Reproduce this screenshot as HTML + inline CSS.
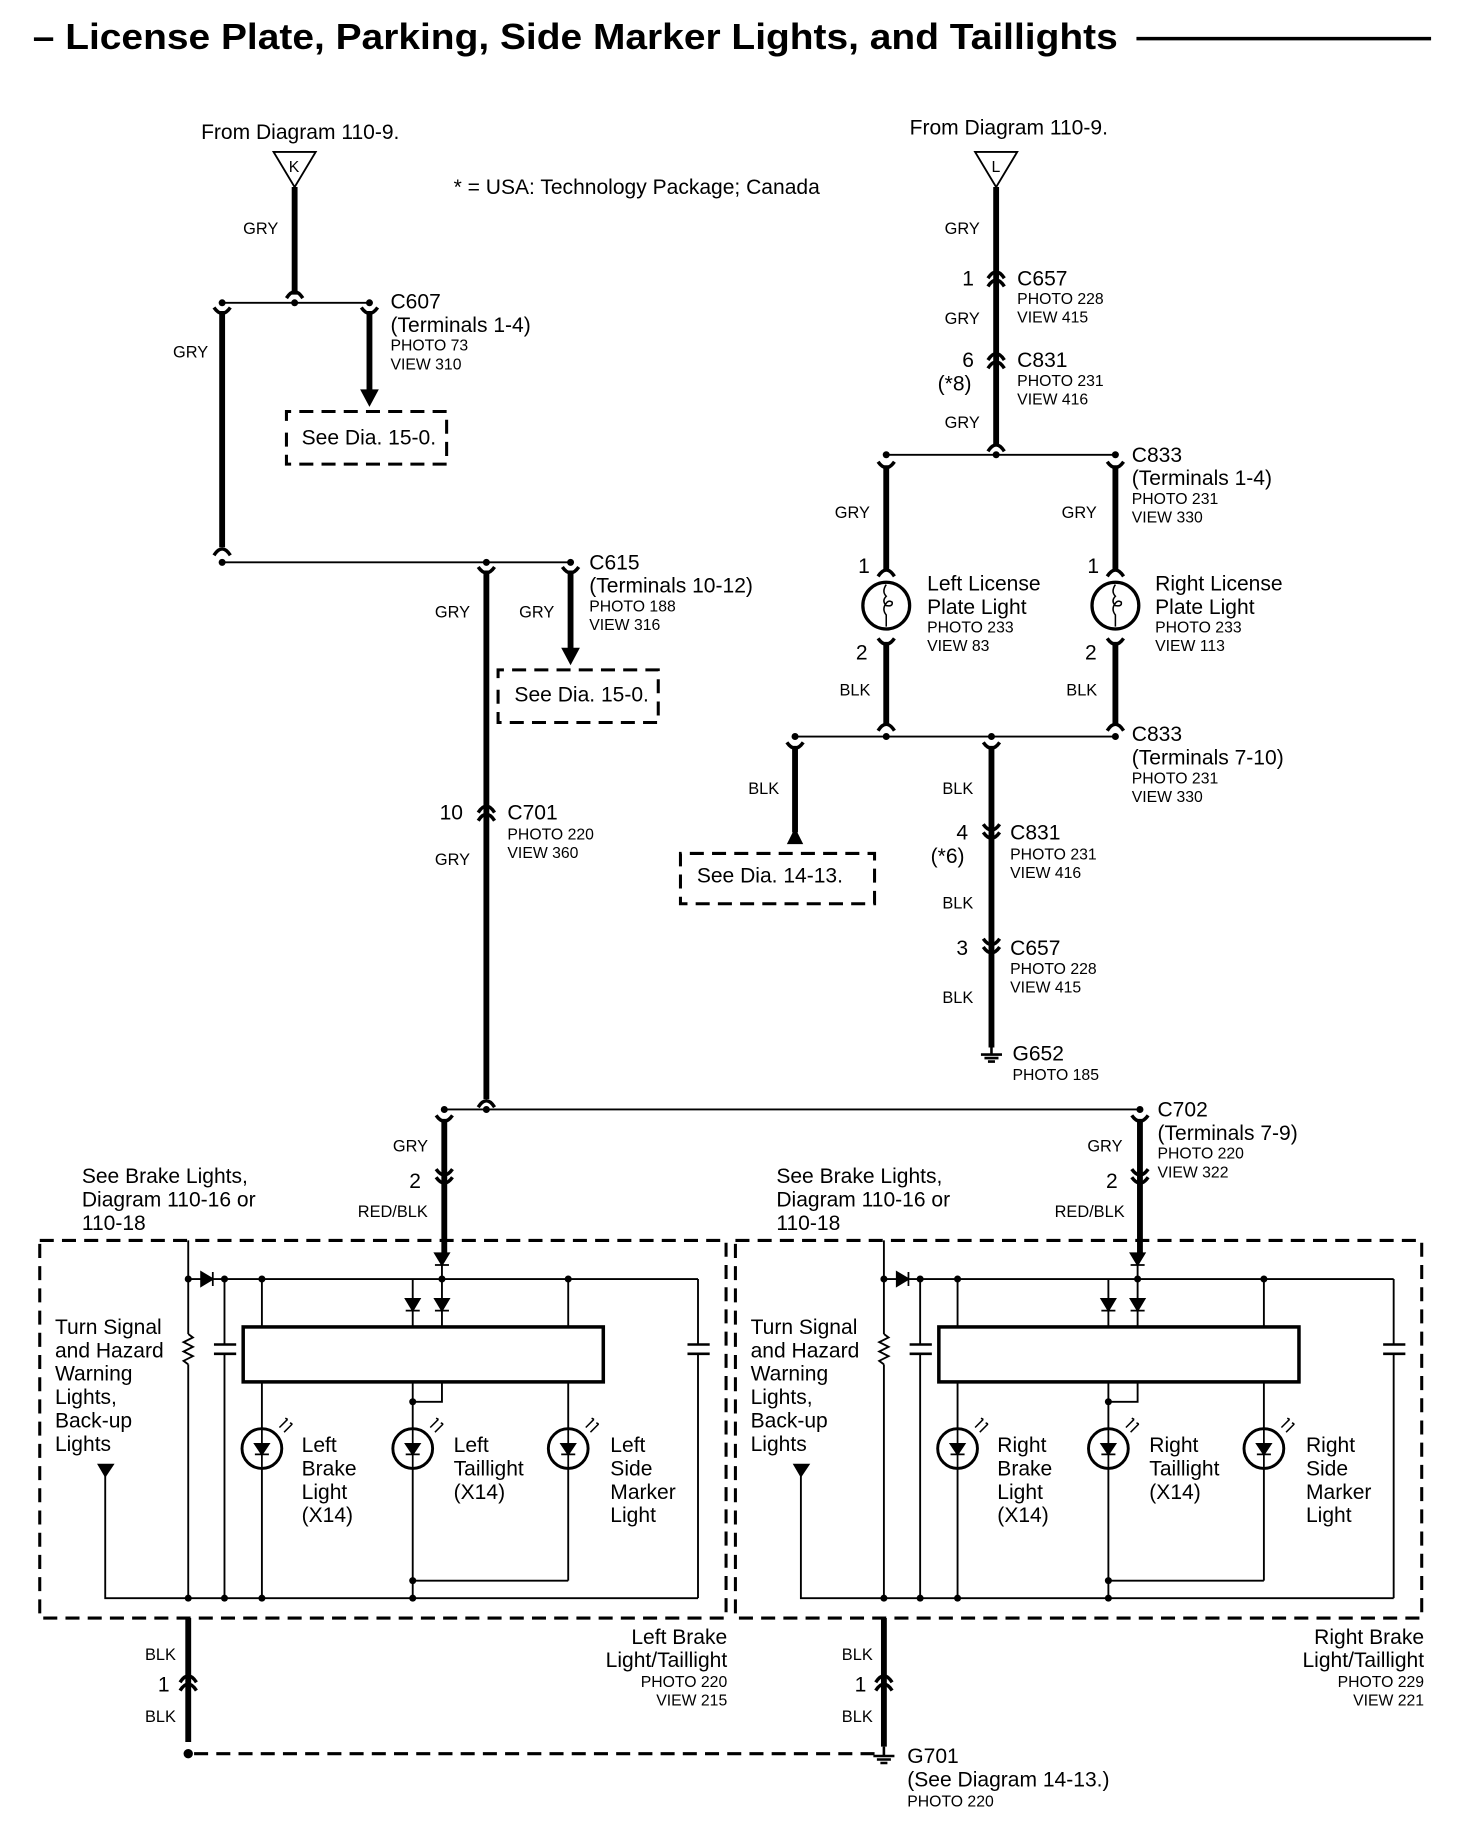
<!DOCTYPE html>
<html><head><meta charset="utf-8"><style>
html,body{margin:0;padding:0;background:#fff}
svg{display:block}
text{font-family:"Liberation Sans",sans-serif;fill:#000}
.m{font-size:18px}
.s{font-size:13.5px}
.w{font-size:14px}
.t{stroke:#000;stroke-width:5;fill:none}
.n{stroke:#000;stroke-width:1.6;fill:none}
.d{stroke:#000;stroke-width:2.6;fill:none;stroke-dasharray:12 7}
</style></head><body>
<svg width="1472" height="1832" viewBox="0 0 1259 1567" preserveAspectRatio="none" xmlns="http://www.w3.org/2000/svg">
<defs>
<path id="cu" d="M-7,5 Q0,-6 7,5" stroke="#000" stroke-width="3" fill="none"/>
<path id="fy" d="M-7,-5 Q0,5 7,-5" stroke="#000" stroke-width="3" fill="none"/>
<g id="led">
<circle r="17" stroke="#000" stroke-width="2.5" fill="#fff"/>
<path d="M0,-17 V17 M-6,-4 H6 L0,5 Z M-6,5 H6" stroke="#000" stroke-width="1.5" fill="#000"/>
<path d="M15,-18 l7,-7 M19,-14 l7,-7 M20,-26 l2,1 M24,-22 l2,1" stroke="#000" stroke-width="1.3" fill="none"/>
</g>
<g id="bulb">
<circle r="20" stroke="#000" stroke-width="2.8" fill="#fff"/>
<path d="M0,-18 q-4,6 0,10 q-4,4 0,8 q6,1 5,-3 q-3,-2 -5,1 q-4,5 0,10 v10" stroke="#000" stroke-width="1.3" fill="none"/>
</g>
<g id="ground"><path d="M0,-8 V0 M-9,0 H9 M-6,3 H6 M-3,6 H3" stroke="#000" stroke-width="2.2"/></g>
</defs>

<!-- title -->
<text x="28" y="42" textLength="928" lengthAdjust="spacingAndGlyphs" style="font-size:31px;font-weight:bold">– License Plate, Parking, Side Marker Lights, and Taillights</text>
<line x1="972" y1="33" x2="1224" y2="33" stroke="#000" stroke-width="3"/>

<text class="m" x="388" y="166">* = USA: Technology Package; Canada</text>

<!-- LEFT top -->
<text class="m" x="172" y="119">From Diagram 110-9.</text>
<path d="M234,130 H270 L252,160 Z" stroke="#000" stroke-width="1.6" fill="#fff"/>
<text class="s" x="247" y="147">K</text>
<line class="t" x1="252" y1="160" x2="252" y2="252"/>
<use href="#cu" x="252" y="250"/>
<text class="w" x="208" y="200">GRY</text>
<line class="n" x1="190" y1="259" x2="316" y2="259"/>
<circle cx="252" cy="259" r="3"/>
<circle cx="190" cy="259" r="3"/><circle cx="316" cy="259" r="3"/>
<use href="#fy" x="190" y="268"/>
<line class="t" x1="190" y1="266" x2="190" y2="468"/>
<use href="#cu" x="190" y="470"/>
<use href="#fy" x="316" y="268"/>
<line class="t" x1="316" y1="266" x2="316" y2="335"/>
<path d="M308,333 H324 L316,348 Z"/>
<text class="w" x="148" y="306">GRY</text>
<text class="m" x="334" y="264">C607</text>
<text class="m" x="334" y="284">(Terminals 1-4)</text>
<text class="s" x="334" y="300">PHOTO 73</text>
<text class="s" x="334" y="316">VIEW 310</text>
<path class="d" d="M245,370 V397 H382 V352 H245 V365"/>
<text class="m" x="258" y="380">See Dia. 15-0.</text>

<line class="n" x1="190" y1="481" x2="488" y2="481"/>
<circle cx="190" cy="481" r="3"/><circle cx="416" cy="481" r="3"/><circle cx="488" cy="481" r="3"/>
<use href="#fy" x="416" y="490"/>
<line class="t" x1="416" y1="488" x2="416" y2="940"/>
<use href="#fy" x="488" y="490"/>
<line class="t" x1="488" y1="488" x2="488" y2="556"/>
<path d="M480,554 H496 L488,569 Z"/>
<text class="w" x="372" y="528">GRY</text>
<text class="w" x="444" y="528">GRY</text>
<text class="m" x="504" y="487">C615</text>
<text class="m" x="504" y="507">(Terminals 10-12)</text>
<text class="s" x="504" y="523">PHOTO 188</text>
<text class="s" x="504" y="539">VIEW 316</text>
<path class="d" d="M426,590 V618 H563 V573 H426 V585"/>
<text class="m" x="440" y="600">See Dia. 15-0.</text>

<use href="#cu" x="416" y="690"/><use href="#cu" x="416" y="697"/>
<text class="m" x="376" y="701">10</text>
<text class="m" x="434" y="701">C701</text>
<text class="s" x="434" y="718">PHOTO 220</text>
<text class="s" x="434" y="734">VIEW 360</text>
<text class="w" x="372" y="740">GRY</text>
<use href="#cu" x="416" y="942"/>

<!-- RIGHT top -->
<text class="m" x="778" y="115">From Diagram 110-9.</text>
<path d="M834,130 H870 L852,160 Z" stroke="#000" stroke-width="1.6" fill="#fff"/>
<text class="s" x="848" y="147">L</text>
<line class="t" x1="852" y1="160" x2="852" y2="381"/>
<text class="w" x="808" y="200">GRY</text>
<use href="#cu" x="852" y="233"/><use href="#cu" x="852" y="240"/>
<text class="m" x="823" y="244">1</text>
<text class="m" x="870" y="244">C657</text>
<text class="s" x="870" y="260">PHOTO 228</text>
<text class="s" x="870" y="276">VIEW 415</text>
<text class="w" x="808" y="277">GRY</text>
<use href="#cu" x="852" y="303"/><use href="#cu" x="852" y="310"/>
<text class="m" x="823" y="314">6</text>
<text class="m" x="802" y="334">(*8)</text>
<text class="m" x="870" y="314">C831</text>
<text class="s" x="870" y="330">PHOTO 231</text>
<text class="s" x="870" y="346">VIEW 416</text>
<text class="w" x="808" y="366">GRY</text>
<use href="#cu" x="852" y="381"/>
<line class="n" x1="758" y1="389" x2="954" y2="389"/>
<circle cx="758" cy="389" r="3"/><circle cx="852" cy="389" r="3"/><circle cx="954" cy="389" r="3"/>
<text class="m" x="968" y="395">C833</text>
<text class="m" x="968" y="415">(Terminals 1-4)</text>
<text class="s" x="968" y="431">PHOTO 231</text>
<text class="s" x="968" y="447">VIEW 330</text>

<use href="#fy" x="758" y="400"/>
<line class="t" x1="758" y1="398" x2="758" y2="488"/>
<use href="#cu" x="758" y="488"/>
<use href="#bulb" x="758" y="518"/>
<use href="#fy" x="758" y="551"/>
<line class="t" x1="758" y1="549" x2="758" y2="620"/>
<use href="#cu" x="758" y="620"/>
<text class="w" x="714" y="443">GRY</text>
<text class="m" x="734" y="490">1</text>
<text class="m" x="732" y="564">2</text>
<text class="w" x="718" y="595">BLK</text>
<text class="m" x="793" y="505">Left License</text>
<text class="m" x="793" y="525">Plate Light</text>
<text class="s" x="793" y="541">PHOTO 233</text>
<text class="s" x="793" y="557">VIEW 83</text>

<use href="#fy" x="954" y="400"/>
<line class="t" x1="954" y1="398" x2="954" y2="488"/>
<use href="#cu" x="954" y="488"/>
<use href="#bulb" x="954" y="518"/>
<use href="#fy" x="954" y="551"/>
<line class="t" x1="954" y1="549" x2="954" y2="620"/>
<use href="#cu" x="954" y="620"/>
<text class="w" x="908" y="443">GRY</text>
<text class="m" x="930" y="490">1</text>
<text class="m" x="928" y="564">2</text>
<text class="w" x="912" y="595">BLK</text>
<text class="m" x="988" y="505">Right License</text>
<text class="m" x="988" y="525">Plate Light</text>
<text class="s" x="988" y="541">PHOTO 233</text>
<text class="s" x="988" y="557">VIEW 113</text>

<line class="n" x1="680" y1="630" x2="954" y2="630"/>
<circle cx="680" cy="630" r="3"/><circle cx="758" cy="630" r="3"/><circle cx="848" cy="630" r="3"/><circle cx="954" cy="630" r="3"/>
<text class="m" x="968" y="634">C833</text>
<text class="m" x="968" y="654">(Terminals 7-10)</text>
<text class="s" x="968" y="670">PHOTO 231</text>
<text class="s" x="968" y="686">VIEW 330</text>
<use href="#fy" x="680" y="640"/>
<line class="t" x1="680" y1="638" x2="680" y2="712"/>
<path d="M673,722 H687 L680,708 Z"/>
<text class="w" x="640" y="679">BLK</text>
<path class="d" d="M582,748 V773 H748 V730 H582 V742"/>
<text class="m" x="596" y="755">See Dia. 14-13.</text>

<use href="#fy" x="848" y="640"/>
<line class="t" x1="848" y1="638" x2="848" y2="896"/>
<text class="w" x="806" y="679">BLK</text>
<use href="#fy" x="848" y="710"/><use href="#fy" x="848" y="717"/>
<text class="m" x="818" y="718">4</text>
<text class="m" x="796" y="738">(*6)</text>
<text class="m" x="864" y="718">C831</text>
<text class="s" x="864" y="735">PHOTO 231</text>
<text class="s" x="864" y="751">VIEW 416</text>
<text class="w" x="806" y="777">BLK</text>
<use href="#fy" x="848" y="808"/><use href="#fy" x="848" y="815"/>
<text class="m" x="818" y="817">3</text>
<text class="m" x="864" y="817">C657</text>
<text class="s" x="864" y="833">PHOTO 228</text>
<text class="s" x="864" y="849">VIEW 415</text>
<text class="w" x="806" y="858">BLK</text>
<use href="#ground" x="848" y="902"/>
<text class="m" x="866" y="907">G652</text>
<text class="s" x="866" y="924">PHOTO 185</text>

<!-- bottom bus -->
<line class="n" x1="380" y1="949" x2="975" y2="949"/>
<circle cx="380" cy="949" r="3"/><circle cx="416" cy="949" r="3"/><circle cx="975" cy="949" r="3"/>
<use href="#fy" x="380" y="959"/>
<line class="t" x1="380" y1="957" x2="380" y2="1072"/>
<use href="#fy" x="380" y="1005"/><use href="#fy" x="380" y="1012"/>
<text class="w" x="336" y="985">GRY</text>
<text class="m" x="350" y="1016">2</text>
<text class="w" x="306" y="1041">RED/BLK</text>
<use href="#fy" x="975" y="959"/>
<line class="t" x1="975" y1="957" x2="975" y2="1072"/>
<use href="#fy" x="975" y="1005"/><use href="#fy" x="975" y="1012"/>
<text class="w" x="930" y="985">GRY</text>
<text class="m" x="946" y="1016">2</text>
<text class="w" x="902" y="1041">RED/BLK</text>
<text class="m" x="990" y="955">C702</text>
<text class="m" x="990" y="975">(Terminals 7-9)</text>
<text class="s" x="990" y="991">PHOTO 220</text>
<text class="s" x="990" y="1007">VIEW 322</text>

<text class="m" x="70" y="1012">See Brake Lights,</text>
<text class="m" x="70" y="1032">Diagram 110-16 or</text>
<text class="m" x="70" y="1052">110-18</text>
<text class="m" x="664" y="1012">See Brake Lights,</text>
<text class="m" x="664" y="1032">Diagram 110-16 or</text>
<text class="m" x="664" y="1052">110-18</text>

<!-- unit (left) -->
<g id="unit">
<rect class="d" x="34" y="1061" width="587" height="323"/>
<line class="n" x1="161" y1="1061" x2="161" y2="1141"/>
<path class="n" d="M161,1141 l4,3 l-8,4 l8,4 l-8,4 l8,4 l-8,4 l4,3"/>
<line class="n" x1="161" y1="1167" x2="161" y2="1367"/>
<line class="n" x1="161" y1="1094" x2="597" y2="1094"/>
<path d="M172,1088 V1100 L182,1094 Z M182,1088 V1100" stroke="#000" stroke-width="1.5"/>
<line class="n" x1="192" y1="1094" x2="192" y2="1150"/>
<path d="M183,1150 H202 M183,1158 H202" stroke="#000" stroke-width="2.2"/>
<line class="n" x1="192" y1="1158" x2="192" y2="1367"/>
<line class="n" x1="224" y1="1094" x2="224" y2="1135"/>
<line class="n" x1="353" y1="1094" x2="353" y2="1135"/>
<path d="M347,1111 H359 L353,1121 Z M347,1121 H359" stroke="#000" stroke-width="1.5"/>
<line class="n" x1="378" y1="1072" x2="378" y2="1135"/>
<path d="M372,1072 H384 L378,1082 Z M372,1082 H384" stroke="#000" stroke-width="1.5"/>
<path d="M372,1111 H384 L378,1121 Z M372,1121 H384" stroke="#000" stroke-width="1.5"/>
<line class="n" x1="486" y1="1094" x2="486" y2="1135"/>
<line class="n" x1="597" y1="1094" x2="597" y2="1150"/>
<path d="M588,1150 H607 M588,1158 H607" stroke="#000" stroke-width="2.2"/>
<line class="n" x1="597" y1="1158" x2="597" y2="1367"/>
<rect x="208" y="1135" width="308" height="47" fill="none" stroke="#000" stroke-width="3"/>
<line class="n" x1="224" y1="1182" x2="224" y2="1367"/>
<line class="n" x1="486" y1="1182" x2="486" y2="1352"/>
<path class="n" d="M378,1182 V1199 H353"/>
<line class="n" x1="353" y1="1182" x2="353" y2="1367"/>
<line class="n" x1="353" y1="1352" x2="486" y2="1352"/>
<use href="#led" x="224" y="1239"/>
<use href="#led" x="353" y="1239"/>
<use href="#led" x="486" y="1239"/>
<path d="M83,1252 H98 L90,1264 Z"/>
<path class="n" d="M90,1262 V1367 H597"/>
<circle cx="161" cy="1094" r="3"/><circle cx="192" cy="1094" r="3"/><circle cx="224" cy="1094" r="3"/><circle cx="378" cy="1094" r="3"/><circle cx="486" cy="1094" r="3"/>
<circle cx="353" cy="1199" r="3"/><circle cx="353" cy="1352" r="3"/>
<circle cx="161" cy="1367" r="3"/><circle cx="192" cy="1367" r="3"/><circle cx="224" cy="1367" r="3"/><circle cx="353" cy="1367" r="3"/>
</g>
<use href="#unit" x="595" y="0"/>

<text class="m" x="47" y="1141">Turn Signal</text>
<text class="m" x="47" y="1161">and Hazard</text>
<text class="m" x="47" y="1181">Warning</text>
<text class="m" x="47" y="1201">Lights,</text>
<text class="m" x="47" y="1221">Back-up</text>
<text class="m" x="47" y="1241">Lights</text>
<text class="m" x="642" y="1141">Turn Signal</text>
<text class="m" x="642" y="1161">and Hazard</text>
<text class="m" x="642" y="1181">Warning</text>
<text class="m" x="642" y="1201">Lights,</text>
<text class="m" x="642" y="1221">Back-up</text>
<text class="m" x="642" y="1241">Lights</text>

<text class="m" x="258" y="1242">Left</text><text class="m" x="258" y="1262">Brake</text><text class="m" x="258" y="1282">Light</text><text class="m" x="258" y="1302">(X14)</text>
<text class="m" x="388" y="1242">Left</text><text class="m" x="388" y="1262">Taillight</text><text class="m" x="388" y="1282">(X14)</text>
<text class="m" x="522" y="1242">Left</text><text class="m" x="522" y="1262">Side</text><text class="m" x="522" y="1282">Marker</text><text class="m" x="522" y="1302">Light</text>
<text class="m" x="853" y="1242">Right</text><text class="m" x="853" y="1262">Brake</text><text class="m" x="853" y="1282">Light</text><text class="m" x="853" y="1302">(X14)</text>
<text class="m" x="983" y="1242">Right</text><text class="m" x="983" y="1262">Taillight</text><text class="m" x="983" y="1282">(X14)</text>
<text class="m" x="1117" y="1242">Right</text><text class="m" x="1117" y="1262">Side</text><text class="m" x="1117" y="1282">Marker</text><text class="m" x="1117" y="1302">Light</text>

<g text-anchor="end">
<text class="m" x="622" y="1406">Left Brake</text>
<text class="m" x="622" y="1426">Light/Taillight</text>
<text class="s" x="622" y="1443">PHOTO 220</text>
<text class="s" x="622" y="1459">VIEW 215</text>
<text class="m" x="1218" y="1406">Right Brake</text>
<text class="m" x="1218" y="1426">Light/Taillight</text>
<text class="s" x="1218" y="1443">PHOTO 229</text>
<text class="s" x="1218" y="1459">VIEW 221</text>
</g>

<!-- grounds -->
<line class="t" x1="161" y1="1384" x2="161" y2="1490"/>
<use href="#cu" x="161" y="1434"/><use href="#cu" x="161" y="1441"/>
<text class="w" x="124" y="1420">BLK</text>
<text class="m" x="135" y="1447">1</text>
<text class="w" x="124" y="1473">BLK</text>
<circle cx="161" cy="1500" r="4"/>
<line class="d" x1="166" y1="1500" x2="748" y2="1500"/>
<line class="t" x1="756" y1="1384" x2="756" y2="1494"/>
<use href="#cu" x="756" y="1434"/><use href="#cu" x="756" y="1441"/>
<text class="w" x="720" y="1420">BLK</text>
<text class="m" x="731" y="1447">1</text>
<text class="w" x="720" y="1473">BLK</text>
<use href="#ground" x="756" y="1502"/>
<text class="m" x="776" y="1508">G701</text>
<text class="m" x="776" y="1528">(See Diagram 14-13.)</text>
<text class="s" x="776" y="1545">PHOTO 220</text>
</svg>
</body></html>
